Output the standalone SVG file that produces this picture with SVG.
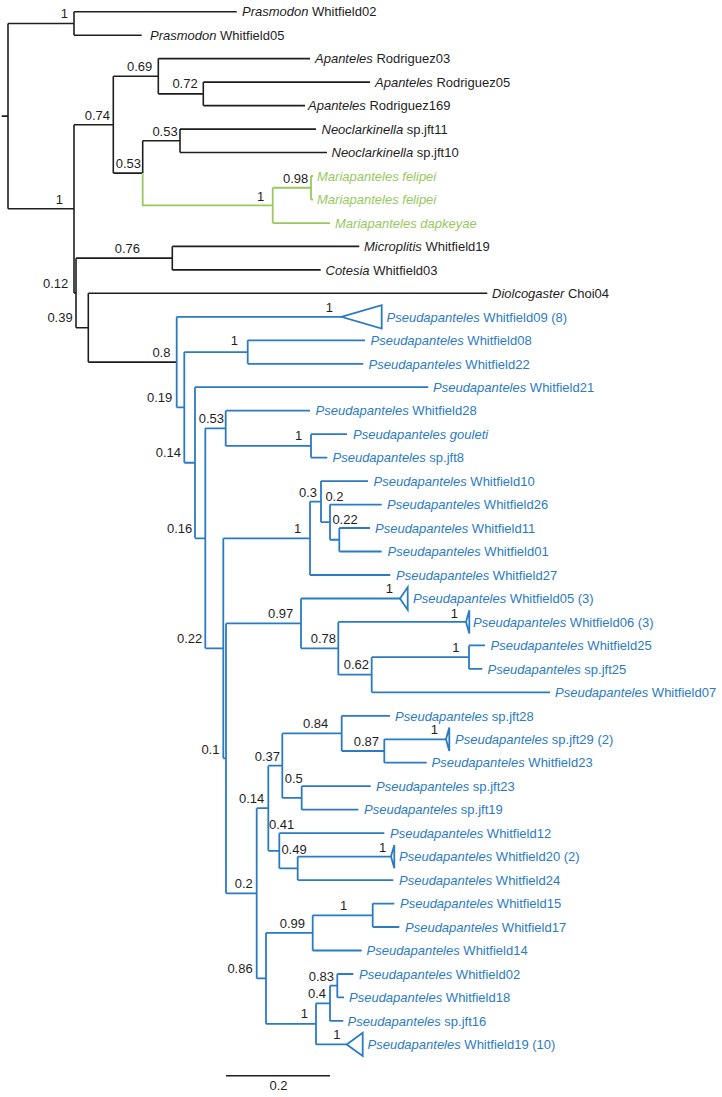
<svg xmlns="http://www.w3.org/2000/svg" width="722" height="1097" viewBox="0 0 722 1097">
<style>
.k{fill:none;stroke:#1e1e1e;stroke-width:1.6}
.b{fill:none;stroke:#2b7bc4;stroke-width:1.8}
.g{fill:none;stroke:#97c95c;stroke-width:1.8}
text{font-family:"Liberation Sans",Arial,sans-serif;font-size:13px}
.tk{fill:#1e1e1e}
.tb{fill:#2b7bc4}
.tg{fill:#97c95c}
.s{fill:#1e1e1e}
.i{font-style:italic}
</style>
<rect width="722" height="1097" fill="#ffffff"/>
<g id="connectors">
<path class="k" d="M1.7,116.1H8 M8,23.45V208.8 M8,23.45H74 M74,11.7V35.2 M74,11.7H236.7 M74,35.2H141.7 M8,208.8H74 M74,124.7V292.9 M74,124.7H113.3 M113.3,76.3V173.1 M113.3,76.3H158.3 M158.3,58.6V93.85 M158.3,58.6H310 M158.3,93.85H203.3 M203.3,82.1V105.6 M203.3,82.1H370 M203.3,105.6H305 M113.3,173.1H142.7 M142.7,140.8V173.1 M142.7,140.8H180 M180,129.1V152.5 M180,129.1H316 M180,152.5H327 M74,292.9H76 M76,258.15V327.7 M76,258.15H172.3 M172.3,246.4V269.9 M172.3,246.4H359.3 M172.3,269.9H320.7 M76,327.7H88.3 M88.3,293.3V362.1 M88.3,293.3H487.3 M88.3,362.1H176.7"/>
<path class="g" d="M142.7,173.1V205.4H272.7 M272.7,187.75V223.1 M272.7,187.75H311 M311,176V199.5 M311,176H313 M311,199.5H313 M272.7,223.1H330"/>
<path class="b" d="M176.7,316.8V407.4 M176.7,316.8H341.3 M176.7,407.4H184.3 M184.3,352.05V462.75 M184.3,352.05H247.7 M247.7,340.3V363.8 M247.7,340.3H365 M247.7,363.8H363.3 M184.3,462.75H195 M195,387.2V538.3 M195,387.2H428.3 M195,538.3H205.3 M205.3,428.3V648.3 M205.3,428.3H225.7 M225.7,410.7V445.9 M225.7,410.7H310 M225.7,445.9H311 M311,434.2V457.6 M311,434.2H347 M311,457.6H327.3 M205.3,648.3H223.3 M223.3,538.3V758.35 M223.3,538.3H310 M310,501.6V575 M310,575H390.3 M310,501.6H321 M321,481.1V522.2 M321,481.1H368 M321,522.2H330 M330,504.6V539.75 M330,504.6H381.7 M330,539.75H339.3 M339.3,528V551.5 M339.3,528H370 M339.3,551.5H381.7 M223.3,758.35H226 M226,623.4V893.3 M226,623.4H301 M301,598.5V648.3 M301,598.5H400 M301,648.3H338.3 M338.3,621.9V674.7 M338.3,621.9H466 M338.3,674.7H371.7 M371.7,657.15V692.3 M371.7,692.3H550 M371.7,657.15H469 M469,645.4V668.9 M469,645.4H485 M469,668.9H482.3 M226,893.3H256.7 M256.7,808.2V978.4 M256.7,808.2H268.3 M268.3,765.7V850.8 M268.3,765.7H282.3 M282.3,733.4V797.95 M282.3,733.4H341.7 M341.7,715.8V751 M341.7,715.8H390 M341.7,751H384.3 M384.3,739.3V762.7 M384.3,739.3H446 M384.3,762.7H426.7 M282.3,797.95H301.7 M301.7,786.2V809.7 M301.7,786.2H370.7 M301.7,809.7H358.3 M268.3,850.8H279.3 M279.3,833.2V868.35 M279.3,833.2H384.3 M279.3,868.35H297.7 M297.7,856.6V880.1 M297.7,856.6H391 M297.7,880.1H393.3 M256.7,978.4H266 M266,932.9V1023.85 M266,932.9H312.7 M312.7,915.3V950.5 M312.7,950.5H361.7 M312.7,915.3H372.7 M372.7,903.6V927 M372.7,903.6H394.3 M372.7,927H399.3 M266,1023.85H316 M316,1003.3V1044.4 M316,1044.4H346.7 M316,1003.3H330 M330,985.7V1020.9 M330,1020.9H343.3 M330,985.7H337.3 M337.3,974V997.4 M337.3,974H353.3 M337.3,997.4H344"/>
</g>
<g id="tips">
<g id="tip-prasmodon-w02"><text class="tk" x="242" y="16.4"><tspan class="i">Prasmodon</tspan> Whitfield02</text></g>
<g id="tip-prasmodon-w05"><text class="tk" x="150" y="39.9"><tspan class="i">Prasmodon</tspan> Whitfield05</text></g>
<g id="tip-apanteles-r03"><text class="tk" x="315" y="63.3"><tspan class="i">Apanteles</tspan> Rodriguez03</text></g>
<g id="tip-apanteles-r05"><text class="tk" x="375" y="86.8"><tspan class="i">Apanteles</tspan> Rodriguez05</text></g>
<g id="tip-apanteles-r169"><text class="tk" x="308" y="110.3"><tspan class="i">Apanteles</tspan> Rodriguez169</text></g>
<g id="tip-neoclarkinella-jft11"><text class="tk" x="321.5" y="133.8"><tspan class="i">Neoclarkinella</tspan> sp.jft11</text></g>
<g id="tip-neoclarkinella-jft10"><text class="tk" x="331.5" y="157.2"><tspan class="i">Neoclarkinella</tspan> sp.jft10</text></g>
<g id="tip-mariapanteles-felipei-1"><text class="tg i" x="317" y="180.7">Mariapanteles felipei</text></g>
<g id="tip-mariapanteles-felipei-2"><text class="tg i" x="317" y="204.2">Mariapanteles felipei</text></g>
<g id="tip-mariapanteles-dapkeyae"><text class="tg i" x="335" y="227.8">Mariapanteles dapkeyae</text></g>
<g id="tip-microplitis-w19"><text class="tk" x="364" y="251.1"><tspan class="i">Microplitis</tspan> Whitfield19</text></g>
<g id="tip-cotesia-w03"><text class="tk" x="325.5" y="274.6"><tspan class="i">Cotesia</tspan> Whitfield03</text></g>
<g id="tip-diolcogaster-choi04"><text class="tk" x="492" y="298"><tspan class="i">Diolcogaster</tspan> Choi04</text></g>
<g id="tip-p-w09"><path class="b" d="M341.3,316.8L381.7,305.1V328.5Z"/><text class="tb" x="386.5" y="321.5"><tspan class="i">Pseudapanteles</tspan> Whitfield09 (8)</text></g>
<g id="tip-p-w08"><text class="tb" x="370.5" y="345"><tspan class="i">Pseudapanteles</tspan> Whitfield08</text></g>
<g id="tip-p-w22"><text class="tb" x="368.5" y="368.5"><tspan class="i">Pseudapanteles</tspan> Whitfield22</text></g>
<g id="tip-p-w21"><text class="tb" x="433" y="391.9"><tspan class="i">Pseudapanteles</tspan> Whitfield21</text></g>
<g id="tip-p-w28"><text class="tb" x="315.5" y="415.4"><tspan class="i">Pseudapanteles</tspan> Whitfield28</text></g>
<g id="tip-p-gouleti"><text class="tb i" x="353" y="438.9">Pseudapanteles gouleti</text></g>
<g id="tip-p-jft8"><text class="tb" x="332.5" y="462.3"><tspan class="i">Pseudapanteles</tspan> sp.jft8</text></g>
<g id="tip-p-w10"><text class="tb" x="373.5" y="485.8"><tspan class="i">Pseudapanteles</tspan> Whitfield10</text></g>
<g id="tip-p-w26"><text class="tb" x="387" y="509.3"><tspan class="i">Pseudapanteles</tspan> Whitfield26</text></g>
<g id="tip-p-w11"><text class="tb" x="375" y="532.7"><tspan class="i">Pseudapanteles</tspan> Whitfield11</text></g>
<g id="tip-p-w01"><text class="tb" x="387.5" y="556.2"><tspan class="i">Pseudapanteles</tspan> Whitfield01</text></g>
<g id="tip-p-w27"><text class="tb" x="396" y="579.7"><tspan class="i">Pseudapanteles</tspan> Whitfield27</text></g>
<g id="tip-p-w05"><path class="b" d="M400,598.5L407.7,587.1V609.9Z"/><text class="tb" x="413" y="603.2"><tspan class="i">Pseudapanteles</tspan> Whitfield05 (3)</text></g>
<g id="tip-p-w06"><path class="b" d="M466,621.9L469.3,610.2V633.6Z"/><text class="tb" x="473" y="626.6"><tspan class="i">Pseudapanteles</tspan> Whitfield06 (3)</text></g>
<g id="tip-p-w25"><text class="tb" x="490.5" y="650.1"><tspan class="i">Pseudapanteles</tspan> Whitfield25</text></g>
<g id="tip-p-jft25"><text class="tb" x="487.5" y="673.6"><tspan class="i">Pseudapanteles</tspan> sp.jft25</text></g>
<g id="tip-p-w07"><text class="tb" x="555" y="697"><tspan class="i">Pseudapanteles</tspan> Whitfield07</text></g>
<g id="tip-p-jft28"><text class="tb" x="395" y="720.5"><tspan class="i">Pseudapanteles</tspan> sp.jft28</text></g>
<g id="tip-p-jft29"><path class="b" d="M446,739.3L449.3,727.6V751Z"/><text class="tb" x="455" y="744"><tspan class="i">Pseudapanteles</tspan> sp.jft29 (2)</text></g>
<g id="tip-p-w23"><text class="tb" x="431.5" y="767.4"><tspan class="i">Pseudapanteles</tspan> Whitfield23</text></g>
<g id="tip-p-jft23"><text class="tb" x="376" y="790.9"><tspan class="i">Pseudapanteles</tspan> sp.jft23</text></g>
<g id="tip-p-jft19"><text class="tb" x="364" y="814.4"><tspan class="i">Pseudapanteles</tspan> sp.jft19</text></g>
<g id="tip-p-w12"><text class="tb" x="390" y="837.9"><tspan class="i">Pseudapanteles</tspan> Whitfield12</text></g>
<g id="tip-p-w20"><path class="b" d="M391,856.6L394.3,844.9V868.3Z"/><text class="tb" x="399" y="861.3"><tspan class="i">Pseudapanteles</tspan> Whitfield20 (2)</text></g>
<g id="tip-p-w24"><text class="tb" x="399" y="884.8"><tspan class="i">Pseudapanteles</tspan> Whitfield24</text></g>
<g id="tip-p-w15"><text class="tb" x="400" y="908.3"><tspan class="i">Pseudapanteles</tspan> Whitfield15</text></g>
<g id="tip-p-w17"><text class="tb" x="405" y="931.7"><tspan class="i">Pseudapanteles</tspan> Whitfield17</text></g>
<g id="tip-p-w14"><text class="tb" x="366.5" y="955.2"><tspan class="i">Pseudapanteles</tspan> Whitfield14</text></g>
<g id="tip-p-w02"><text class="tb" x="359" y="978.7"><tspan class="i">Pseudapanteles</tspan> Whitfield02</text></g>
<g id="tip-p-w18"><text class="tb" x="349" y="1002.1"><tspan class="i">Pseudapanteles</tspan> Whitfield18</text></g>
<g id="tip-p-jft16"><text class="tb" x="347.5" y="1025.6"><tspan class="i">Pseudapanteles</tspan> sp.jft16</text></g>
<g id="tip-p-w19"><path class="b" d="M346.7,1044.4L362.7,1032.8V1056Z"/><text class="tb" x="367.5" y="1049.1"><tspan class="i">Pseudapanteles</tspan> Whitfield19 (10)</text></g>
</g>
<g id="support">
<g id="n-prasmodon"><text class="s" x="60.7" y="18.3">1</text></g>
<g id="n-069"><text class="s" x="127" y="71">0.69</text></g>
<g id="n-072"><text class="s" x="172.4" y="88.3">0.72</text></g>
<g id="n-074"><text class="s" x="84.7" y="120">0.74</text></g>
<g id="n-053a"><text class="s" x="152.4" y="136">0.53</text></g>
<g id="n-053b"><text class="s" x="115.7" y="168.3">0.53</text></g>
<g id="n-098"><text class="s" x="283" y="183.3">0.98</text></g>
<g id="n-maria"><text class="s" x="257" y="200.7">1</text></g>
<g id="n-a"><text class="s" x="55.7" y="204">1</text></g>
<g id="n-076"><text class="s" x="114.7" y="253.3">0.76</text></g>
<g id="n-012"><text class="s" x="43" y="288.3">0.12</text></g>
<g id="n-039"><text class="s" x="47.4" y="321.7">0.39</text></g>
<g id="n-08"><text class="s" x="152.4" y="356.7">0.8</text></g>
<g id="n-w09"><text class="s" x="325.7" y="311.7">1</text></g>
<g id="n-w08"><text class="s" x="230.7" y="345">1</text></g>
<g id="n-019"><text class="s" x="147" y="401.7">0.19</text></g>
<g id="n-053c"><text class="s" x="198.7" y="423.3">0.53</text></g>
<g id="n-gouleti"><text class="s" x="295" y="440">1</text></g>
<g id="n-014a"><text class="s" x="155.7" y="456.7">0.14</text></g>
<g id="n-03"><text class="s" x="299" y="496.7">0.3</text></g>
<g id="n-02a"><text class="s" x="325.4" y="500.7">0.2</text></g>
<g id="n-022a"><text class="s" x="332.4" y="524.3">0.22</text></g>
<g id="n-016"><text class="s" x="167" y="532.7">0.16</text></g>
<g id="n-w27"><text class="s" x="294" y="532.7">1</text></g>
<g id="n-w05"><text class="s" x="385.7" y="593.3">1</text></g>
<g id="n-097"><text class="s" x="268" y="618.3">0.97</text></g>
<g id="n-w06"><text class="s" x="450.7" y="617.7">1</text></g>
<g id="n-022b"><text class="s" x="177" y="643.3">0.22</text></g>
<g id="n-078"><text class="s" x="310.7" y="643.3">0.78</text></g>
<g id="n-w25"><text class="s" x="452.3" y="651.7">1</text></g>
<g id="n-062"><text class="s" x="343.7" y="669.3">0.62</text></g>
<g id="n-084"><text class="s" x="303" y="728.3">0.84</text></g>
<g id="n-jft29"><text class="s" x="430.7" y="734">1</text></g>
<g id="n-087"><text class="s" x="353.7" y="746">0.87</text></g>
<g id="n-01"><text class="s" x="201.4" y="754">0.1</text></g>
<g id="n-037"><text class="s" x="254.7" y="761">0.37</text></g>
<g id="n-05"><text class="s" x="284.7" y="782.7">0.5</text></g>
<g id="n-014b"><text class="s" x="239" y="802.7">0.14</text></g>
<g id="n-041"><text class="s" x="269" y="829.3">0.41</text></g>
<g id="n-w20"><text class="s" x="379" y="851.7">1</text></g>
<g id="n-049"><text class="s" x="281.4" y="854">0.49</text></g>
<g id="n-02b"><text class="s" x="234.7" y="888.3">0.2</text></g>
<g id="n-w15"><text class="s" x="340" y="910">1</text></g>
<g id="n-099"><text class="s" x="279.7" y="927.7">0.99</text></g>
<g id="n-086"><text class="s" x="227.4" y="973.3">0.86</text></g>
<g id="n-083"><text class="s" x="308.7" y="980.7">0.83</text></g>
<g id="n-04"><text class="s" x="308" y="998.3">0.4</text></g>
<g id="n-1b"><text class="s" x="300.7" y="1018.3">1</text></g>
<g id="n-w19"><text class="s" x="333.3" y="1039.3">1</text></g>
</g>
<g id="scale-bar">
<path class="k" d="M226,1075.7H330"/>
<text class="s" x="278.5" y="1089.5" text-anchor="middle">0.2</text>
</g>
</svg>
